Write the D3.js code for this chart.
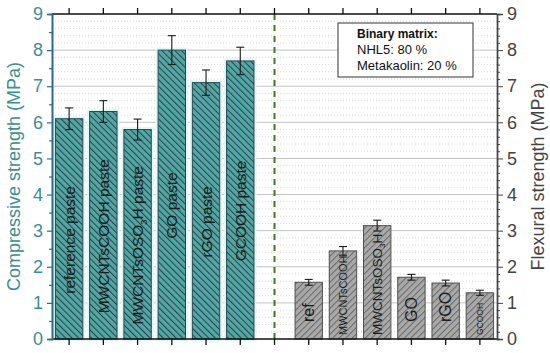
<!DOCTYPE html>
<html>
<head>
<meta charset="utf-8">
<script src="https://cdn.jsdelivr.net/npm/d3@7"></script>
<style>
  body { margin: 0; background: #fff; }
  svg { display: block; font-family: "Liberation Sans", Arial, sans-serif; }
</style>
</head>
<body>
<svg id="chart"></svg>
<script>
const compCategories = ["reference paste", "MWCNTsCOOH paste", "MWCNTsOSO3H paste", "GO paste", "rGO paste", "GCOOH paste"];
const compValues = [6.1, 6.3, 5.8, 8.0, 7.1, 7.7];
const compErrors = [0.3, 0.3, 0.29, 0.4, 0.35, 0.38];
const flexCategories = ["ref", "MWCNTsCOOH", "MWCNTsOSO3H", "GO", "rGO", "GCOOH"];
const flexValues = [1.57, 2.44, 3.14, 1.71, 1.55, 1.28];
const flexErrors = [0.08, 0.12, 0.15, 0.08, 0.08, 0.07];
const yTicks = [0, 1, 2, 3, 4, 5, 6, 7, 8, 9];
const legendLines = ["Binary matrix:", "NHL5: 80 %", "Metakaolin: 20 %"];

const width = 550, height = 353;
const plotL = 52, plotR = 497, plotT = 14, plotB = 339;

// label font sizes for the flexural group
const flexFont = { "ref": 16, "MWCNTsCOOH": 11, "MWCNTsOSO3H": 13.5, "GO": 16, "rGO": 16, "GCOOH": 8.5 };

const svg = d3.select("#chart").attr("width", width).attr("height", height);
const defs = svg.append("defs");

function hatch(id, angle, bg, line) {
  const s = 4.6;
  const p = defs.append("pattern")
    .attr("id", id)
    .attr("patternUnits", "userSpaceOnUse")
    .attr("width", s).attr("height", s)
    .attr("patternTransform", `rotate(${angle})`);
  p.append("rect").attr("width", s).attr("height", s).attr("fill", bg);
  p.append("line").attr("x1", 0.5).attr("y1", 0).attr("x2", 0.5).attr("y2", s)
    .attr("stroke", line).attr("stroke-width", 1.1);
}
hatch("hTeal", -45, "#55a6a4", "#1f4a50");
hatch("hGray", 45, "#a9a9a9", "#6a6a6a");

const slots = d3.range(13);
const x = d3.scaleBand().domain(slots).range([plotL, plotR]).padding(0);
const y = d3.scaleLinear().domain([0, 9]).range([plotB, plotT]);
const barW = x.bandwidth() * 0.8;
const cx = i => x(i) + x.bandwidth() / 2;
const minorSteps = d3.range(0, 9.01, 0.2).filter(v => Math.abs(v - Math.round(v)) > 0.01);

// grid
const grid = svg.append("g");
grid.selectAll(".minor")
  .data(minorSteps)
  .enter().append("line")
  .attr("x1", plotL).attr("x2", plotR)
  .attr("y1", d => y(d)).attr("y2", d => y(d))
  .attr("stroke", "#cfcfcf").attr("stroke-width", 0.8)
  .attr("stroke-dasharray", "1,2");
grid.selectAll(".major")
  .data(yTicks.slice(1, -1))
  .enter().append("line")
  .attr("x1", plotL).attr("x2", plotR)
  .attr("y1", d => y(d)).attr("y2", d => y(d))
  .attr("stroke", "#c4c4c4").attr("stroke-width", 1);

const comp = compCategories.map((c, i) => ({ c, v: compValues[i], e: compErrors[i], slot: i }));
const flex = flexCategories.map((c, i) => ({ c, v: flexValues[i], e: flexErrors[i], slot: i + 7 }));

// pale halo behind compressive bars
svg.append("g").selectAll("rect")
  .data(comp).enter().append("rect")
  .attr("x", d => cx(d.slot) - barW / 2)
  .attr("y", d => y(d.v))
  .attr("width", barW)
  .attr("height", d => y(0) - y(d.v))
  .attr("fill", "none")
  .attr("stroke", "#e0f7f4").attr("stroke-width", 5);

function bars(data, fill, stroke) {
  svg.append("g").selectAll("rect")
    .data(data).enter().append("rect")
    .attr("x", d => cx(d.slot) - barW / 2)
    .attr("y", d => y(d.v))
    .attr("width", barW)
    .attr("height", d => y(0) - y(d.v))
    .attr("fill", fill)
    .attr("stroke", stroke).attr("stroke-width", 1);
}
bars(comp, "url(#hTeal)", "#2a4654");
bars(flex, "url(#hGray)", "#505050");

function errors(data) {
  const g = svg.append("g").attr("stroke", "#1a1a1a").attr("stroke-width", 1.1);
  data.forEach(d => {
    const px = cx(d.slot);
    g.append("line").attr("x1", px).attr("x2", px).attr("y1", y(d.v + d.e)).attr("y2", y(d.v - d.e));
    [d.v + d.e, d.v - d.e].forEach(v => {
      g.append("line").attr("x1", px - 4).attr("x2", px + 4).attr("y1", y(v)).attr("y2", y(v));
    });
  });
}
errors(comp);
errors(flex);

function label(sel, text, size) {
  const parts = text.split(/(?<=OSO)3/);
  sel.append("tspan").text(parts[0]);
  if (parts.length > 1) {
    sel.append("tspan").attr("font-size", size * 0.6).attr("dy", size * 0.25).text("3");
    sel.append("tspan").attr("dy", -size * 0.25).text(parts[1]);
  }
}

// compressive labels, centred a bit below bar middle
comp.forEach(d => {
  const size = 15.5;
  const t = svg.append("text")
    .attr("transform", `translate(${cx(d.slot) + size * 0.36},${(y(d.v / 2) + 11)}) rotate(-90)`)
    .attr("text-anchor", "middle")
    .attr("font-size", size)
    .attr("fill", "#1c1c1c");
  label(t, d.c, size);
});

// flexural labels, from the bottom
flex.forEach(d => {
  const size = flexFont[d.c];
  const t = svg.append("text")
    .attr("transform", `translate(${cx(d.slot) + size * 0.36},${y(0) - (size > 14 ? 17 : 4)}) rotate(-90)`)
    .attr("text-anchor", "start")
    .attr("font-size", size)
    .attr("fill", "#1c1c1c");
  label(t, d.c, size);
});

// dashed separator
svg.append("line")
  .attr("x1", cx(6)).attr("x2", cx(6))
  .attr("y1", plotT).attr("y2", plotB)
  .attr("stroke", "#3f7a22").attr("stroke-width", 2)
  .attr("stroke-dasharray", "6,5");

// top and bottom axes
const xAxisBottom = d3.axisBottom(x).tickSize(6).tickFormat("");
const xAxisTop = d3.axisTop(x).tickSize(6).tickFormat("");
[[xAxisBottom, plotB], [xAxisTop, plotT]].forEach(([ax, py]) => {
  const g = svg.append("g").attr("transform", `translate(0,${py})`).call(ax);
  g.select(".domain").attr("stroke", "#111").attr("stroke-width", 1.6).attr("d", `M${plotL},0H${plotR}`);
  g.selectAll(".tick line").attr("stroke", "#111").attr("stroke-width", 1.3);
});

// left axis (teal)
const leftColor = "#3a8f8f";
const gl = svg.append("g").attr("transform", `translate(${plotL},0)`);
gl.append("g").call(d3.axisLeft(y).tickValues(d3.range(0.5, 9, 1)).tickSize(3).tickFormat(""));
gl.append("g").call(d3.axisLeft(y).tickValues(yTicks).tickSize(5).tickPadding(4).tickFormat(d3.format("d")));
gl.selectAll(".domain").attr("stroke", "#2b6f7e").attr("stroke-width", 1.6);
gl.selectAll(".tick line").attr("stroke", "#2b6f7e").attr("stroke-width", 1.2);
gl.selectAll(".tick text").attr("fill", leftColor).attr("font-size", 18)
  .attr("font-family", "Liberation Sans, Arial, sans-serif");

// right axis (gray)
const rightColor = "#444";
const gr = svg.append("g").attr("transform", `translate(${plotR},0)`);
gr.append("g").call(d3.axisRight(y).tickValues(minorSteps).tickSize(3).tickFormat(""));
gr.append("g").call(d3.axisRight(y).tickValues(yTicks).tickSize(6).tickPadding(4).tickFormat(d3.format("d")));
gr.selectAll(".domain").attr("stroke", rightColor).attr("stroke-width", 1.4);
gr.selectAll(".tick line").attr("stroke", rightColor).attr("stroke-width", 1);
gr.selectAll(".tick text").attr("fill", rightColor).attr("font-size", 18)
  .attr("font-family", "Liberation Sans, Arial, sans-serif");

// axis titles
svg.append("text")
  .attr("transform", `translate(20,${(plotT + plotB) / 2}) rotate(-90)`)
  .attr("text-anchor", "middle").attr("font-size", 18).attr("fill", leftColor)
  .text("Compressive strength (MPa)");
svg.append("text")
  .attr("transform", `translate(544,${(plotT + plotB) / 2}) rotate(-90)`)
  .attr("text-anchor", "middle").attr("font-size", 18).attr("fill", rightColor)
  .text("Flexural strength (MPa)");

// legend box
const lg = svg.append("g").attr("transform", "translate(338,23)");
lg.append("rect").attr("width", 135).attr("height", 54)
  .attr("fill", "#fff").attr("stroke", "#333").attr("stroke-width", 1);
legendLines.forEach((t, i) => {
  lg.append("text")
    .attr("x", 19).attr("y", 15 + i * 16)
    .attr("font-size", i === 0 ? 12 : 13)
    .attr("font-weight", i === 0 ? "bold" : "normal")
    .attr("fill", "#111")
    .text(t);
});
</script>
</body>
</html>
